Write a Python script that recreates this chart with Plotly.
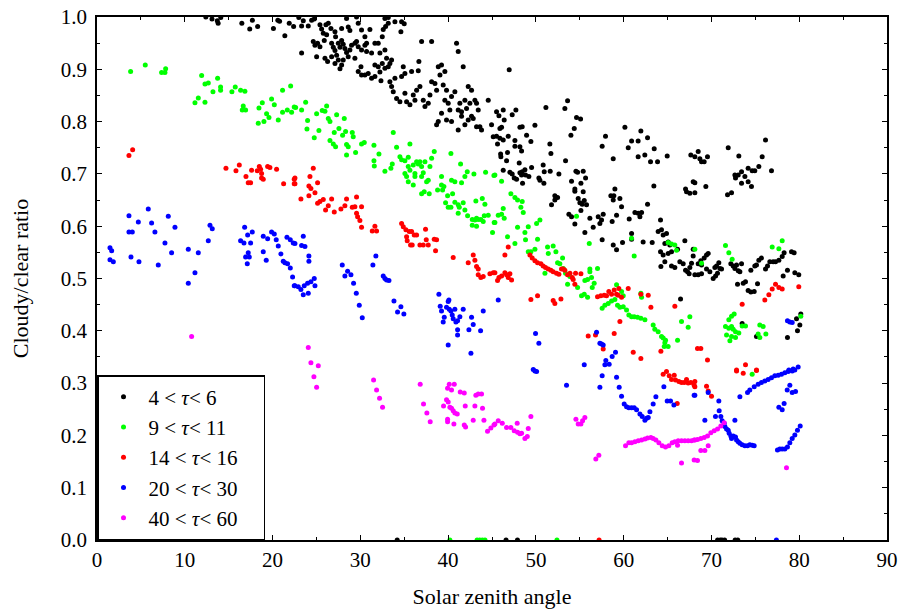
import plotly.graph_objects as go

# ---------------- data ----------------
black_pts = [
    (12.4,1.0),(13.1,0.996),(13.7,0.993),(13.8,0.988),(14.1,0.999),(16.5,0.988),(17.4,0.977),(17.7,0.994),
    (18.3,0.982),(20.1,0.978),(20.6,0.994),(20.8,0.992),(21.4,0.964),(21.9,0.988),(22.4,0.982),
    (22.99,0.999),(23.5,0.993),(23.31,0.983),(24.07,0.983),(24.45,0.994),(24.75,0.996),(25.4,0.985),(25.59,0.977),
    (26.08,0.985),(26.35,0.988),(23.31,0.931),(24.64,0.953),(24.83,0.946),(25.13,0.95),(25.4,0.943),(25.02,0.924),
    (25.89,0.955),(26.16,0.966),(25.78,0.969),(25.97,0.921),(26.27,0.915),
    (26.65,0.978),(27.11,0.972),(27.18,0.962),(27.87,0.978),(28.43,0.997),(28.62,0.981),(28.81,0.974),(29.57,1.0),
    (29.76,0.988),(26.73,0.95),(26.92,0.942),(27.11,0.936),(27.49,0.95),(27.68,0.942),(27.87,0.955),(28.05,0.948),
    (28.24,0.94),(28.43,0.932),(28.81,0.937),(29.0,0.946),(29.38,0.95),(29.57,0.953),(29.76,0.943),(26.73,0.924),
    (27.11,0.911),(27.49,0.918),(27.87,0.908),(28.05,0.918),(27.68,0.901),(27.3,0.927),(29.38,0.921),(29.76,0.896),
    (30.07,0.905),(28.62,0.924),
    (30.14,0.975),(30.52,0.962),(30.71,0.95),(31.09,0.976),(32.8,0.997),(33.18,0.999),(33.18,0.988),(32.88,0.982),
    (32.61,0.976),(30.14,0.937),(30.52,0.946),(30.71,0.934),(31.28,0.931),(31.66,0.95),(32.04,0.95),(32.23,0.931),
    (32.5,0.962),(32.8,0.937),(32.99,0.921),(33.37,0.911),(33.56,0.918),(33.18,0.905),(32.5,0.911),(32.04,0.905),
    (31.66,0.908),(30.14,0.889),(30.52,0.889),(30.9,0.892),(31.28,0.883),(31.66,0.886),(32.23,0.895),(32.35,0.878),
    (32.8,0.902),(33.37,0.876),(33.56,0.867),(33.75,0.857),(33.94,0.883),
    (33.94,0.991),(34.7,0.991),(35.0,0.987),(34.62,0.972),(34.13,0.844),(34.51,0.838),(34.7,0.886),(35.08,0.854),
    (35.27,0.838),(34.89,0.905),(35.08,0.892),(35.84,0.896),(36.03,0.851),(35.65,0.832),(36.22,0.841),(36.41,0.86),
    (36.67,0.915),(36.79,0.867),(36.6,0.897),(36.98,0.953),(37.17,0.841),(37.36,0.829),
    (37.74,0.835),(37.93,0.851),(38.12,0.953),(38.12,0.876),(38.5,0.873),(38.69,0.86),(38.88,0.905),(39.07,0.889),
    (39.25,0.908),(39.44,0.87),(39.63,0.896),(39.63,0.841),(39.82,0.86),(40.01,0.835),(40.2,0.822),(40.39,0.848),
    (40.77,0.857),(40.96,0.95),(41.15,0.934),(41.15,0.822),(41.34,0.835),(39.25,0.816),(38.88,0.8),(38.69,0.794),
    (39.82,0.803),(40.39,0.8),(41.15,0.784),
    (41.53,0.819),(41.72,0.905),(41.91,0.841),(42.1,0.825),(42.29,0.867),(42.48,0.835),(42.67,0.86),(42.86,0.806),
    (43.05,0.841),(43.24,0.835),(43.43,0.822),(43.62,0.79),(43.81,0.784),(44.57,0.841),(44.95,0.794),(45.14,0.771),
    (41.53,0.81),(41.91,0.794),(42.29,0.803),(42.67,0.81),(43.24,0.79),
    (46.96,0.899),(45.52,0.819),(45.79,0.811),(46.28,0.822),(46.39,0.803),(45.9,0.787),(46.09,0.789),(45.52,0.772),
    (45.9,0.768),(46.28,0.765),(45.63,0.757),(46.85,0.772),(47.3,0.813),(47.72,0.822),(48.18,0.789),(48.44,0.79),
    (47.61,0.764),(47.61,0.753),(48.18,0.752),(48.37,0.744),(48.94,0.774),(49.43,0.762),(49.89,0.793),(45.98,0.738),
    (46.01,0.733),(46.77,0.741),(46.66,0.725),(46.28,0.707),(47.04,0.703),(47.3,0.7),(47.53,0.692),(47.8,0.69),
    (48.1,0.721),(48.18,0.702),(48.37,0.698),(48.44,0.704),(48.75,0.708),(48.82,0.698),(49.2,0.695),(49.51,0.712),
    (48.48,0.682),(50.34,0.692),(50.46,0.688),(50.83,0.717),(50.95,0.704),(50.91,0.682),(51.14,0.827),(51.59,0.757),
    (51.71,0.739),(51.63,0.705),(52.62,0.7),(53.3,0.825),(53.38,0.725),(53.61,0.84),(53.99,0.774),(54.37,0.787),
    (54.63,0.808),(55.09,0.805),(54.06,0.686),(54.56,0.705),(54.75,0.703),(55.13,0.682),(55.39,0.705),(55.66,0.692),
    (54.44,0.671),(57.55,0.753),(57.93,0.772),(58.81,0.729),(59.0,0.671),(60.14,0.789),(60.52,0.75),(60.9,0.763),
    (61.65,0.763),(61.65,0.733),(61.96,0.782),(62.41,0.736),(62.72,0.769),(63.06,0.723),(63.48,0.748),(63.44,0.677),
    (63.86,0.723),(64.96,0.734),(67.05,0.671),(67.65,0.736),(67.92,0.685),
    (52.16,0.658),(52.47,0.655),(54.44,0.667),(55.39,0.666),(51.78,0.641),(52.16,0.65),(54.82,0.653),(55.01,0.645),
    (55.28,0.642),(55.51,0.649),(55.77,0.641),(53.76,0.623),(54.06,0.618),(55.13,0.63),(56.15,0.615),(54.44,0.604),
    (55.58,0.588),(56.53,0.598),(57.1,0.618),(57.48,0.612),(57.67,0.623),(57.29,0.605),(58.69,0.609),(59.19,0.621),
    (58.54,0.658),(58.81,0.65),(58.88,0.658),(59.57,0.653),(59.76,0.637),(60.63,0.614),(61.28,0.626),(61.66,0.625),
    (61.85,0.618),(62.04,0.626),(62.72,0.642),(57.55,0.574),(58.81,0.564),(59.19,0.555),(59.87,0.569),(60.9,0.586),
    (60.9,0.575),(62.22,0.57),(63.25,0.569),(63.93,0.59),(64.2,0.612),(64.31,0.593),(64.5,0.583),(64.88,0.586),
    (64.69,0.567),(65.07,0.57),(65.26,0.564),(64.2,0.551),(64.5,0.545),(64.69,0.532),(64.24,0.523),(65.07,0.548),
    (65.45,0.551),(65.45,0.524),(65.83,0.521),(66.14,0.556),(66.4,0.532),(66.97,0.572),(66.78,0.528),(67.05,0.516),
    (67.28,0.513),(67.54,0.521),(67.73,0.529),(67.92,0.543),(67.92,0.556),(67.46,0.509),(66.48,0.461),
    (67.16,0.666),(67.54,0.663),
    (71.91,0.75),(73.12,0.734),(76.16,0.765),(75.78,0.733),(75.4,0.714),(74.94,0.706),(74.64,0.706),(74.18,0.711),
    (73.43,0.704),(73.05,0.698),(72.67,0.698),(72.74,0.692),(73.81,0.695),(74.18,0.685),(73.43,0.682),(74.56,0.676),
    (76.84,0.706),(68.11,0.683),(69.36,0.676),(68.49,0.743),(68.68,0.729),(68.87,0.723),(69.17,0.723),(69.55,0.733),
    (68.11,0.733),
    (71.83,0.66),(72.29,0.664),(68.11,0.664),(68.49,0.528),(68.79,0.534),(69.17,0.539),(69.44,0.545),(69.63,0.548),
    (68.87,0.526),(68.11,0.507),(68.49,0.507),(68.87,0.509),(69.44,0.518),(69.82,0.513),(70.2,0.5),(70.47,0.505),
    (70.69,0.51),(70.39,0.521),(70.58,0.524),(70.84,0.53),(70.96,0.519),(71.15,0.518),(72.21,0.528),(72.48,0.524),
    (72.67,0.519),(72.86,0.526),(73.05,0.515),(73.24,0.513),(73.43,0.528),(74.49,0.516),(74.94,0.524),(75.13,0.526),
    (75.4,0.535),(75.7,0.539),(76.16,0.518),(76.39,0.524),(76.65,0.532),(77.03,0.532),(77.3,0.532),(77.68,0.535),
    (78.06,0.542),(78.28,0.549),(79.12,0.551),(79.42,0.549),(78.66,0.516),(79.5,0.511),(79.95,0.507),(78.17,0.505),
    (72.97,0.489),(73.62,0.491),(73.88,0.494),(74.18,0.477),(74.49,0.474),(74.87,0.475),(75.25,0.49),(73.5,0.414),
    (75.13,0.389),(78.66,0.387),(79.69,0.423),(80.07,0.411),(80.18,0.432),(79.8,0.4),
    (34.2,0.0),(46.6,0.0),(47.9,0.0),(70.7,0.0),(71.0,0.0),(71.2,0.0),(71.5,0.0),(72.7,0.0),(73.0,0.0),
]

green_pts = [
    (3.83,0.896),(5.5,0.908),(7.36,0.894),(7.74,0.894),(7.82,0.901),(11.92,0.888),(12.3,0.872),(12.68,0.874),
    (13.74,0.883),(13.21,0.857),(14.08,0.866),(14.08,0.86),(15.37,0.857),(15.75,0.866),(16.36,0.86),(16.85,0.858),
    (11.16,0.836),(11.54,0.845),(12.3,0.837),(16.66,0.83),(16.55,0.822),(16.93,0.822),(18.37,0.797),(18.45,0.826),
    (18.83,0.836),(19.02,0.8),(19.32,0.815),(19.59,0.808),(19.89,0.843),(20.2,0.832),(20.65,0.803),(21.14,0.86),
    (21.14,0.818),(21.68,0.822),(22.06,0.868),(22.17,0.818),(22.47,0.828),
    (22.63,0.827),(23.31,0.822),(23.77,0.837),(23.99,0.802),(23.92,0.786),(24.75,0.769),(25.02,0.815),(25.28,0.783),
    (25.66,0.821),(25.97,0.82),(26.16,0.83),(26.35,0.806),(26.54,0.8),(26.54,0.764),(26.92,0.757),(27.03,0.779),
    (27.3,0.813),(27.18,0.752),(27.56,0.787),(27.98,0.774),(28.17,0.806),(28.32,0.781),(28.43,0.756),(28.43,0.736),
    (28.62,0.752),(29.08,0.779),(29.19,0.771),(29.46,0.741),(30.14,0.757),(30.45,0.76),(31.55,0.755),(31.55,0.725),
    (31.59,0.715),(32.12,0.738),(32.8,0.705),(33.48,0.711),(33.64,0.719),(33.75,0.779),(34.13,0.751),(34.51,0.733),
    (34.7,0.727),(35.08,0.725),(35.46,0.732),(35.65,0.757),(35.08,0.701),(35.27,0.695),(35.46,0.714),(35.65,0.707),
    (36.03,0.717),(36.22,0.701),(36.41,0.723),(36.6,0.719),(36.79,0.723),(36.98,0.714),(37.17,0.702),(37.36,0.723),
    (37.55,0.685),(37.74,0.688),(37.93,0.714),(38.12,0.73),(38.42,0.743),(35.46,0.685),(36.03,0.679),(36.22,0.695),
    (36.98,0.695),(39.25,0.695),(39.25,0.679),(39.52,0.676),(40.32,0.739),(40.39,0.688),(40.77,0.685),(41.42,0.719),
    (41.53,0.683),(41.91,0.695),(42.18,0.704),(42.94,0.7),(44.27,0.703),(45.22,0.697),
    (36.98,0.662),(37.28,0.666),(37.85,0.662),(39.94,0.658),(40.51,0.662),(39.71,0.645),(40.01,0.636),(40.32,0.636),
    (40.77,0.646),(41.15,0.641),(41.27,0.636),(41.15,0.625),(41.72,0.645),(41.91,0.631),(42.22,0.62),(42.75,0.613),
    (43.05,0.612),(43.24,0.615),(43.43,0.613),(43.73,0.613),(44.0,0.609),(43.24,0.6),(42.75,0.602),(43.16,0.648),
    (43.89,0.653),(44.19,0.642),(44.12,0.62),(44.57,0.621),(45.06,0.588),(45.25,0.607),(38.8,0.669),(39.37,0.669),
    (45.33,0.698),(46.09,0.686),
    (47.15,0.662),(47.61,0.655),(47.91,0.65),(48.44,0.647),(48.29,0.636),(48.56,0.626),(46.28,0.634),(46.09,0.623),
    (46.39,0.615),(45.71,0.621),(45.33,0.607),(47.91,0.598),(48.75,0.588),(49.13,0.599),(46.77,0.58),(47.61,0.567),
    (48.82,0.574),(50.19,0.575),(50.08,0.605),(50.46,0.612),(49.13,0.551),(49.43,0.551),(49.89,0.556),(51.33,0.56),
    (51.97,0.562),(51.41,0.548),(52.28,0.551),(52.47,0.53),(52.73,0.528),(53.04,0.539),(51.03,0.51),(53.38,0.51),
    (53.12,0.519),(53.61,0.489),(53.88,0.504),(54.75,0.483),(55.58,0.496),(55.89,0.498),(56.15,0.513),(56.08,0.567),
    (56.15,0.518),(56.34,0.502),(56.64,0.491),(57.02,0.519),(56.42,0.483),(55.2,0.467),(55.51,0.47),(55.89,0.464),
    (54.63,0.619),(61.2,0.543),(60.9,0.577),(59.19,0.488),(59.76,0.475),(59.95,0.467),(61.96,0.472),(62.04,0.464),
    (57.55,0.443),(57.86,0.449),(58.24,0.452),(58.62,0.457),(59.0,0.46),(59.3,0.449),(59.57,0.445),(59.95,0.446),
    (60.33,0.44),(60.59,0.43),(60.9,0.427),(61.2,0.427),(61.58,0.426),(61.96,0.424),(62.42,0.421),(63.36,0.411),
    (63.55,0.403),(63.93,0.398),(64.31,0.389),(64.5,0.386),(64.77,0.382),(64.69,0.377),(64.62,0.37),(65.07,0.37),
    (66.14,0.382),(65.07,0.569),(65.45,0.566),(66.02,0.554),(65.83,0.564),(66.59,0.418),(67.54,0.427),(67.35,0.407),
    (68.11,0.556),(68.87,0.529),(71.6,0.563),(71.98,0.549),(72.36,0.537),(76.92,0.56),(77.68,0.557),(78.06,0.572),
    (72.59,0.432),(72.29,0.428),(71.98,0.421),(71.6,0.408),(71.98,0.405),(72.29,0.408),(72.48,0.403),(72.74,0.398),
    (73.12,0.396),(71.72,0.392),(72.29,0.389),(72.74,0.387),(72.1,0.381),(73.5,0.409),(73.88,0.409),(75.51,0.411),
    (75.89,0.408),(75.32,0.394),(75.51,0.387),(76.2,0.394),(80.18,0.428),(74.64,0.317),
    (40.2,0.0),(43.3,0.0),(43.6,0.0),(43.9,0.0),(44.2,0.0),(52.4,0.0),
]

red_pts = [
    (3.64,0.735),(4.06,0.746),(14.69,0.711),(15.83,0.706),(16.21,0.717),(16.97,0.695),(17.23,0.683),(17.5,0.683),
    (17.61,0.707),(18.26,0.706),(18.49,0.714),(18.64,0.709),(18.75,0.701),(18.75,0.692),(18.94,0.69),(19.44,0.714),
    (19.7,0.712),(20.46,0.709),(21.26,0.681),(22.47,0.69),(22.47,0.681),
    (22.55,0.692),(22.55,0.681),(24.26,0.695),(24.64,0.711),(25.13,0.683),(24.14,0.677),(24.37,0.672),
    (23.23,0.652),(24.14,0.658),(24.83,0.664),(25.13,0.644),(25.4,0.647),(25.78,0.651),(26.04,0.631),(26.35,0.639),
    (26.73,0.652),(27.03,0.627),(27.79,0.633),(28.24,0.639),(28.43,0.652),(29.08,0.636),(29.38,0.637),(29.57,0.656),
    (29.57,0.625),(29.69,0.618),(29.95,0.611),(30.14,0.637),(30.14,0.598),(31.36,0.591),(31.66,0.6),(31.85,0.591),
    (34.7,0.605),(34.89,0.599),(35.19,0.593),(35.27,0.58),(35.57,0.59),(35.84,0.59),(35.34,0.572),(35.72,0.564),
    (35.91,0.564),(36.14,0.583),(36.41,0.583),(36.79,0.564),(37.17,0.564),(37.43,0.594),(37.51,0.574),(37.74,0.564),
    (38.42,0.575),(38.69,0.574),(38.57,0.553),(40.58,0.54),(42.29,0.53),(42.86,0.545),(43.05,0.535),(43.24,0.523),
    (43.43,0.518),(43.43,0.507),(43.73,0.502),(44.0,0.504),(44.76,0.509),(45.14,0.511),
    (46.85,0.56),(46.47,0.545),(45.33,0.511),(45.79,0.502),(45.63,0.496),(46.09,0.505),(46.47,0.511),(46.66,0.507),
    (46.85,0.502),(47.04,0.509),(47.23,0.497),(49.32,0.545),(49.58,0.539),(49.89,0.534),(50.19,0.53),(50.57,0.528),
    (50.83,0.524),(51.1,0.521),(51.41,0.518),(51.71,0.516),(51.97,0.513),(52.35,0.51),(52.62,0.508),(52.92,0.518),
    (53.12,0.518),(53.3,0.516),(53.61,0.507),(53.88,0.51),(54.14,0.502),(54.25,0.498),(54.44,0.489),(54.52,0.51),
    (55.13,0.509),(49.43,0.46),(50.19,0.467),(51.97,0.458),(52.16,0.452),(52.85,0.461),(57.02,0.465),(57.4,0.467),
    (57.78,0.468),(58.05,0.467),(58.31,0.475),(58.62,0.47),(58.92,0.478),(59.19,0.47),(59.38,0.468),(59.76,0.464),
    (59.45,0.481),(60.52,0.481),(59.57,0.418),(58.92,0.395),(61.96,0.47),(62.8,0.468),(63.1,0.445),(65.83,0.447),
    (55.96,0.39),(56.79,0.392),(57.67,0.365),(61.09,0.359),(61.96,0.347),(64.24,0.361),
    (64.5,0.317),(64.88,0.322),(65.19,0.314),(65.45,0.307),(65.76,0.315),(65.91,0.306),(66.29,0.303),(66.59,0.301),
    (66.9,0.301),(67.16,0.307),(67.35,0.3),(67.65,0.301),(68.03,0.296),(66.1,0.261),
    (68.41,0.366),(68.79,0.366),(69.55,0.344),(73.5,0.451),(76.08,0.459),(76.54,0.469),(76.92,0.48),(77.3,0.489),
    (77.68,0.483),(78.06,0.48),(79.95,0.484),(73.88,0.335),(72.86,0.325),(75.13,0.325),
    (72.86,0.323),(73.62,0.319),(75.13,0.324),(68.11,0.303),(68.11,0.293),(69.44,0.294),(69.63,0.285),(70.01,0.275),
    (57.2,0.0),
]

blue_pts = [
    (1.48,0.559),(1.67,0.553),(1.48,0.536),(1.86,0.532),(3.64,0.62),(3.64,0.589),(4.02,0.589),(3.87,0.541),
    (4.71,0.608),(4.78,0.532),(5.84,0.633),(6.22,0.606),(6.6,0.589),(6.98,0.526),(7.74,0.568),(8.12,0.619),
    (8.5,0.549),(8.88,0.598),(10.4,0.556),(10.4,0.491),(11.16,0.511),(11.54,0.549),(12.68,0.572),(12.87,0.602),
    (13.13,0.595),(16.36,0.572),(16.74,0.568),(16.82,0.598),(16.93,0.541),(17.12,0.528),(17.16,0.583),(17.23,0.549),
    (17.35,0.541),(17.5,0.568),(17.69,0.589),(18.94,0.581),(18.94,0.551),(19.28,0.535),(19.44,0.576),(19.89,0.589),
    (20.2,0.585),(20.42,0.574),(20.65,0.562),(20.95,0.547),(21.22,0.533),(21.41,0.53),(21.71,0.528),(22.02,0.52),
    (21.64,0.579),(22.02,0.574),(22.36,0.568),(22.28,0.503),(22.47,0.486),
    (22.55,0.567),(23.5,0.581),(23.31,0.563),(23.69,0.561),(24.14,0.543),(24.14,0.533),(22.55,0.486),(22.93,0.484),
    (23.23,0.479),(23.5,0.469),(23.61,0.486),(23.99,0.491),(24.07,0.472),(24.37,0.494),(24.75,0.5),(24.83,0.486),
    (27.94,0.526),(28.24,0.505),(28.55,0.514),(28.93,0.507),(29.23,0.491),(29.54,0.472),(29.88,0.449),(30.22,0.425),
    (31.43,0.526),(31.77,0.543),(32.61,0.505),(32.8,0.5),(32.99,0.497),(33.26,0.496),(33.83,0.457),(34.24,0.436),
    (34.62,0.446),(34.96,0.432),(38.95,0.47),(39.1,0.447),(39.25,0.438),(39.44,0.417),(39.56,0.426),(39.82,0.445),
    (40.01,0.456),(40.09,0.459),(40.13,0.441),(40.32,0.438),(40.47,0.43),(40.58,0.423),(40.77,0.441),(40.89,0.417),
    (41.08,0.419),(41.08,0.402),(41.08,0.392),(41.34,0.427),(41.72,0.441),(40.01,0.373),(42.37,0.402),(42.67,0.426),
    (42.86,0.412),(43.7,0.4),(42.6,0.357),(44.0,0.438),
    (45.71,0.459),(49.96,0.395),(50.34,0.376),(55.51,0.335),(56.91,0.397),(57.29,0.376),(57.48,0.375),(57.67,0.373),
    (59.07,0.359),(58.69,0.351),(57.97,0.343),(58.35,0.336),(57.86,0.335),(49.7,0.326),
    (49.89,0.323),(50.08,0.322),(53.49,0.296),(57.55,0.314),(57.29,0.292),(59.19,0.311),(59.49,0.292),(59.76,0.275),
    (60.06,0.26),(60.33,0.255),(60.59,0.253),(60.9,0.253),(61.2,0.253),(61.47,0.249),(61.85,0.241),(62.11,0.236),
    (62.42,0.229),(62.61,0.233),(62.8,0.234),(62.99,0.245),(63.36,0.26),(63.67,0.274),(64.58,0.293),(64.96,0.266),
    (65.34,0.266),(65.72,0.258),(68.03,0.277),
    (78.66,0.419),(78.93,0.417),(79.2,0.416),(78.82,0.325),(79.31,0.327),(79.88,0.331),
    (68.11,0.277),(69.63,0.282),(70.84,0.266),(70.88,0.247),(70.46,0.236),(71.07,0.236),(71.22,0.228),(69.25,0.229),
    (72.67,0.229),(71.45,0.223),(71.53,0.217),(71.72,0.212),(71.91,0.21),(72.02,0.204),(72.21,0.199),(72.48,0.199),
    (72.74,0.197),(72.29,0.194),(72.86,0.191),(73.05,0.188),(73.24,0.185),(73.5,0.182),(73.81,0.18),(74.11,0.18),
    (74.37,0.182),(74.64,0.181),(74.87,0.18),(73.24,0.274),(74.11,0.282),(74.37,0.287),(74.87,0.293),(75.32,0.298),
    (75.7,0.301),(76.08,0.304),(76.46,0.307),(76.84,0.31),(77.22,0.314),(77.6,0.315),(77.98,0.317),(78.36,0.32),
    (78.74,0.322),(79.2,0.323),(79.5,0.325),(77.52,0.172),(77.79,0.174),(78.06,0.174),(78.36,0.174),(78.66,0.178),
    (78.93,0.186),(79.2,0.194),(79.5,0.201),(79.8,0.21),(80.11,0.218),(77.68,0.254),(78.06,0.249),(78.28,0.261),
    (78.63,0.287),(78.93,0.296),(79.2,0.282),(79.58,0.284),
    (77.4,0.0),
]

magenta_pts = [
    (10.78,0.389),(24.07,0.368),(24.37,0.339),(25.21,0.333),
    (24.71,0.312),(25.02,0.292),(31.51,0.306),(31.85,0.287),(32.19,0.271),(32.53,0.254),(36.82,0.298),(37.2,0.26),
    (37.58,0.243),(37.96,0.226),(39.48,0.256),(39.94,0.29),(40.13,0.298),(40.7,0.298),(40.39,0.287),(39.82,0.268),
    (40.01,0.264),(40.2,0.254),(40.39,0.252),(40.58,0.247),(40.77,0.243),(41.04,0.241),(39.94,0.231),(39.94,0.226),
    (40.66,0.222),(41.38,0.283),(41.84,0.281),(41.95,0.256),(41.84,0.22),(41.99,0.216),(42.86,0.229),(43.05,0.256),
    (43.16,0.277),(43.43,0.279),(43.81,0.279),(43.92,0.252),(44.08,0.229),(44.49,0.208),(44.87,0.214),(45.22,0.22),
    (45.33,0.222),(45.71,0.228),(46.17,0.223),(46.66,0.215),(47.15,0.215),(47.53,0.209),(47.91,0.206),(48.18,0.203),
    (48.37,0.204),(47.87,0.223),(48.75,0.194),(49.02,0.198),(49.13,0.213),(49.43,0.236),(54.56,0.231),(54.82,0.222),
    (55.13,0.222),(55.32,0.228),(55.58,0.234),(56.83,0.155),(57.17,0.162),(60.21,0.18),(60.59,0.186),(60.9,0.186),
    (61.28,0.188),(61.66,0.19),(62.04,0.191),(62.42,0.193),(62.72,0.195),(63.1,0.196),(63.36,0.194),(63.67,0.191),
    (64.01,0.186),(64.39,0.18),(64.77,0.178),(65.15,0.18),(65.53,0.186),(65.83,0.188),(66.14,0.181),(66.21,0.19),
    (66.59,0.19),(66.97,0.19),(67.35,0.19),(67.73,0.19),(68.03,0.191),(66.59,0.147),(68.03,0.153),
    (68.11,0.191),(68.41,0.192),(68.79,0.194),(69.17,0.196),(69.55,0.199),(69.93,0.205),(70.31,0.209),(70.69,0.212),
    (71.07,0.218),(71.45,0.224),(68.79,0.171),(69.25,0.171),(69.63,0.18),(68.41,0.152),(78.55,0.138),
]

series_names = ["4 &lt; <i>τ</i>&lt; 6", "9 &lt; <i>τ</i>&lt; 11", "14 &lt; <i>τ</i>&lt; 16",
                "20 &lt; <i>τ</i>&lt; 30", "40 &lt; <i>τ</i>&lt; 60"]
series_colors = ["#000000", "#00ff00", "#ff0000", "#0000ff", "#ff00ff"]
series_data = [black_pts, green_pts, red_pts, blue_pts, magenta_pts]

x_ticks = [0, 10, 20, 30, 40, 50, 60, 70, 80, 90]
y_ticks = [0.0, 0.1, 0.2, 0.3, 0.4, 0.5, 0.6, 0.7, 0.8, 0.9, 1.0]

# ---------------- figure ----------------
fig = go.Figure()
for name, color, pts in zip(series_names, series_colors, series_data):
    fig.add_trace(go.Scatter(
        x=[p[0] for p in pts], y=[p[1] for p in pts],
        mode="markers", name=name + "&nbsp;&nbsp;&nbsp;&nbsp;",
        marker=dict(color=color, size=5, line=dict(width=0)),
    ))

font_family = "Liberation Serif"
axis_common = dict(
    showline=True, linecolor="black", linewidth=1.5, mirror="allticks",
    ticks="inside", tickcolor="black", tickwidth=1, ticklen=5,
    showgrid=False, zeroline=False, ticklabeloverflow="allow",
    tickfont=dict(family=font_family, size=21, color="black"),
)
fig.update_xaxes(range=[0, 90], tickvals=x_ticks, ticktext=[str(v) for v in x_ticks],
                 minor=dict(dtick=5, tick0=0, ticks="inside", ticklen=3, tickcolor="black"),
                 title=dict(text="Solar zenith angle", font=dict(family=font_family, size=22), standoff=18),
                 **axis_common)
fig.update_yaxes(range=[0, 1], tickvals=y_ticks, ticktext=[f"{v:.1f}" for v in y_ticks],
                 minor=dict(dtick=0.05, tick0=0, ticks="inside", ticklen=3, tickcolor="black"),
                 title=dict(text="Cloudy/clear ratio", font=dict(family=font_family, size=22), standoff=26),
                 ticklabelstandoff=4,
                 **axis_common)
fig.update_layout(
    width=903, height=616,
    margin=dict(l=97, r=16, t=17, b=76, autoexpand=False),
    plot_bgcolor="white", paper_bgcolor="white",
    font=dict(family=font_family, size=21, color="black"),
    legend=dict(x=0, y=0, xanchor="left", yanchor="bottom",
                bgcolor="white", bordercolor="black", borderwidth=1.5,
                font=dict(family=font_family, size=21, color="black"),
                itemwidth=40, tracegroupgap=0),
    showlegend=True,
)
fig.write_html("out.html",
               config={"displayModeBar": False},
               post_script="document.body.style.margin='0';document.body.style.overflow='hidden';")
